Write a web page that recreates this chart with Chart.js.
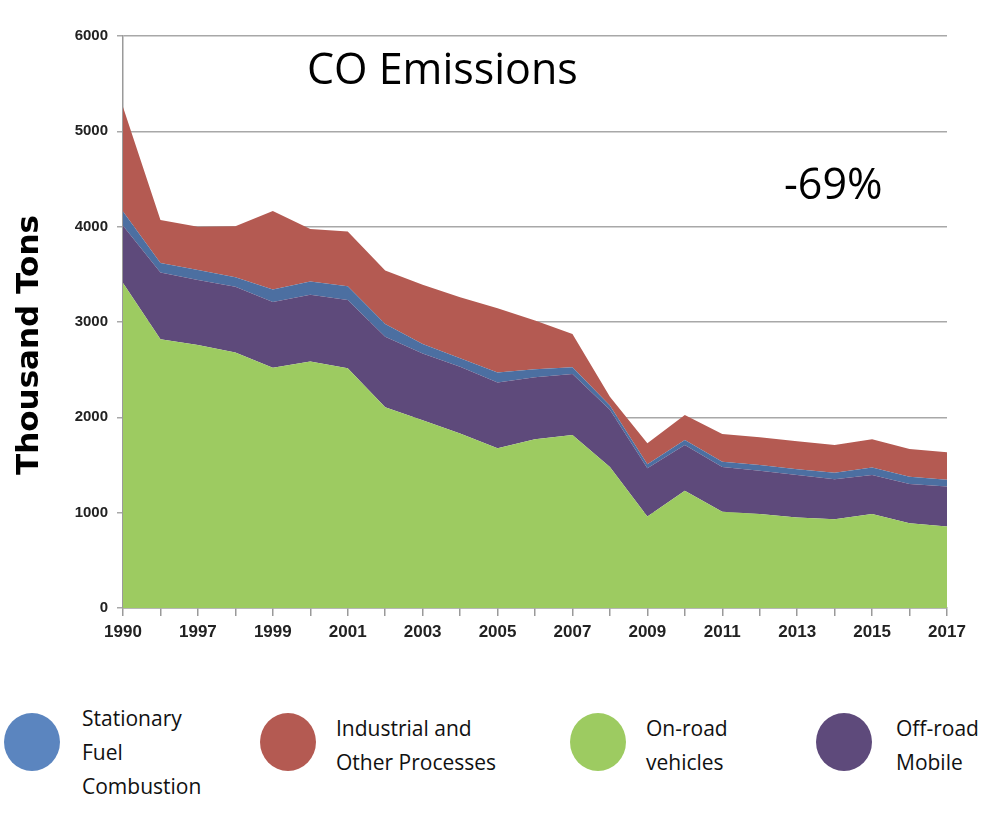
<!DOCTYPE html>
<html>
<head>
<meta charset="utf-8">
<script src="https://cdn.jsdelivr.net/npm/chart.js@4.4.1/dist/chart.umd.min.js"></script>
<style>
  body { margin: 0; background: #fff; }
  #wrap { position: relative; width: 1000px; height: 815px; }
  #chartBox { position: absolute; left: 0; top: 0; width: 1000px; height: 680px; }
  .leg { position: absolute; font-family: "Open Sans", sans-serif; font-size: 21px; line-height: 34px; color: #111; }
  .dot { position: absolute; width: 56px; height: 58px; border-radius: 50%; filter: blur(0.6px); }
</style>
</head>
<body>
<div id="wrap">
  <div id="chartBox"><canvas id="co"></canvas></div>
  <div class="dot" style="left:4px;top:713px;background:#5b85bf"></div>
  <div class="leg" style="left:82px;top:701px">Stationary<br>Fuel<br>Combustion</div>
  <div class="dot" style="left:260px;top:713px;background:#b45a52"></div>
  <div class="leg" style="left:336px;top:711px">Industrial and<br>Other Processes</div>
  <div class="dot" style="left:570px;top:713px;background:#9dcb61"></div>
  <div class="leg" style="left:646px;top:711px">On-road<br>vehicles</div>
  <div class="dot" style="left:816px;top:713px;background:#5e4a7b"></div>
  <div class="leg" style="left:896px;top:711px">Off-road<br>Mobile</div>
</div>
<script>
// years on the axis (no 1991-1995 in the source)
const years = ["1990","1996","1997","1998","1999","2000","2001","2002","2003","2004","2005",
  "2006","2007","2008","2009","2010","2011","2012","2013","2014","2015","2016","2017"];

// thousand tons
const onRoad = [3410,2820,2760,2680,2520,2585,2515,2105,1970,1830,1675,
  1770,1815,1480,960,1230,1010,985,950,930,985,890,855];
const offRoad = [600,700,680,690,690,700,715,740,700,700,690,
  650,640,600,505,480,470,455,445,420,410,410,420];
const stationary = [150,100,105,100,130,140,145,135,100,90,105,
  85,70,45,42,52,55,60,60,70,80,78,70];
const industrial = [1095,450,455,535,825,550,575,560,620,640,675,
  510,350,90,220,262,290,290,295,290,295,290,290];

const annotate = {
  id: 'annotate',
  afterDraw(chart) {
    const ctx = chart.ctx;
    ctx.save();
    ctx.fillStyle = '#000';
    ctx.textBaseline = 'middle';
    ctx.font = '43px "Open Sans"';
    ctx.fillText('CO Emissions', 307, 72);
    ctx.fillText('-69%', 784, 187);
    ctx.translate(30, 345);
    ctx.rotate(-Math.PI / 2);
    ctx.textAlign = 'center';
    ctx.font = 'bold 31px "DejaVu Sans"';
    ctx.fillText('Thousand Tons', 0, 0);
    ctx.restore();
  }
};

const tickFont = { family: '"Liberation Sans"', weight: 'bold' };

new Chart(document.getElementById('co'), {
  type: 'line',
  data: {
    labels: years,
    datasets: [
      { label: 'On-road vehicles', data: onRoad, backgroundColor: '#9dcb61', fill: 'origin' },
      { label: 'Off-road Mobile', data: offRoad, backgroundColor: '#5e4a7b', fill: '-1' },
      { label: 'Stationary Fuel Combustion', data: stationary, backgroundColor: '#4c6fa1', fill: '-1' },
      { label: 'Industrial and Other Processes', data: industrial, backgroundColor: '#b45a52', fill: '-1' }
    ]
  },
  options: {
    responsive: true,
    maintainAspectRatio: false,
    animation: false,
    elements: { point: { radius: 0 }, line: { borderWidth: 0, tension: 0 } },
    layout: { padding: { left: 0, right: 53, top: 36, bottom: 0 } },
    plugins: { legend: { display: false }, tooltip: { enabled: false } },
    scales: {
      x: {
        offset: false,
        grid: { drawOnChartArea: false, color: '#9a9a9a', tickLength: 8, lineWidth: 1.5 },
        border: { color: '#9a9a9a', width: 1.5 },
        ticks: {
          autoSkip: false, maxRotation: 0, padding: 6, color: '#222',
          font: Object.assign({ size: 17 }, tickFont),
          callback: (v, i) => (i % 2 === 0 ? years[i] : '')
        },
        afterFit: s => { s.height = 72; }
      },
      y: {
        stacked: true,
        min: 0, max: 6000,
        grid: { color: '#a8a8a8', lineWidth: 1.5, tickLength: 6 },
        border: { color: '#9a9a9a', width: 1.5 },
        ticks: {
          stepSize: 1000, padding: 9, color: '#222',
          font: Object.assign({ size: 15 }, tickFont),
          callback: v => String(v)
        },
        afterFit: s => { s.width = 123; }
      }
    }
  },
  plugins: [annotate]
});
</script>
</body>
</html>
